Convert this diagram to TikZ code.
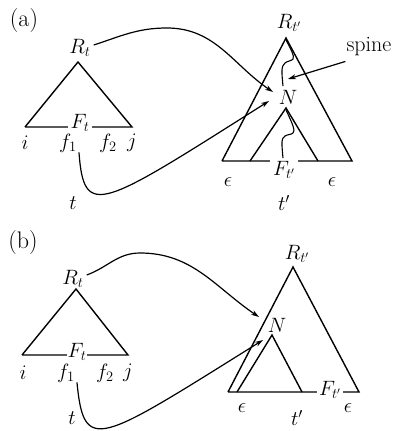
\documentclass[tikz,border=0pt]{standalone}
\usetikzlibrary{arrows.meta}
\begin{document}
\begin{tikzpicture}[x=1pt,y=-1pt,
  lbl/.style={font=\fontsize{20}{22}\selectfont,inner sep=0pt},
  big/.style={font=\fontsize{24}{27}\selectfont,inner sep=0pt},
  gap/.style={lbl,fill=white,inner xsep=3pt,inner ysep=1pt},
  edge/.style={line width=1.4pt},
  conn/.style={line width=1.2pt,-{Stealth[length=8pt,width=5pt]}},
  wig/.style={line width=1.1pt}]
\useasboundingbox (0,0) rectangle (397,431);
% ---------- (a) ----------
\node[big] (la) at (24,21) {(a)};
% left tree
\coordinate (aA) at (78,62);
\coordinate (aL) at (25,127);
\coordinate (aR) at (132,127);
\draw[edge] (aL) -- (aA) -- (aR) -- (aL);
\node[gap,inner xsep=3pt] (aFt) at (80,123) {$F_t$};
\node[lbl] (aRt) at (80,48) {$R_t$};
\node[lbl] (ai) at (25,143) {$i$};
\node[lbl] (af1) at (68,143) {$f_1$};
\node[lbl] (af2) at (108,143) {$f_2$};
\node[lbl] (aj) at (132,143) {$j$};
\node[lbl] (at) at (73,203) {$t$};
% right tree
\coordinate (bA) at (286,38);
\coordinate (bL) at (222,161);
\coordinate (bR) at (352,161);
\coordinate (cA) at (286,108);
\coordinate (cL) at (250,161);
\coordinate (cR) at (318,161);
\draw[edge] (bL) -- (bA) -- (bR) -- (bL);
\draw[edge] (cL) -- (cA) -- (cR);
\node[gap,inner xsep=3pt] (aFtp) at (284,170) {$F_{t'}$};
\node[lbl] (aRtp) at (289,23) {$R_{t'}$};
\node[lbl] (aN) at (288,97) {$N$};
\node[lbl] (ae1) at (228,182) {$\epsilon$};
\node[lbl] (ae2) at (332,182) {$\epsilon$};
\node[lbl] (atp) at (284,203) {$t'$};
\node[font=\fontsize{22}{24}\selectfont,inner sep=0pt] (spine) at (369,47) {spine};
% spine squiggles
\draw[wig] plot[smooth,tension=0.6] coordinates {(286,40) (292,52) (293,59) (285,63) (282,70) (283,86)};
\draw[wig] plot[smooth,tension=0.6] coordinates {(286,110) (293,126) (293,133) (285,136) (282,142) (283,158)};
\coordinate (spT) at (288,79);
\draw[conn] (spine.south west) ++(-1,5) -- (spT);
% connectors
\coordinate (aT1) at (273,92);
\coordinate (aT2) at (269,101);
\coordinate (aPk) at (167,28);
\draw[conn] (aRt.east) ++(3,-3) to[out=18,in=180] (aPk) to[out=0,in=146] (aT1);
\draw[conn] (af1.south east) ++(2,0) .. controls (84,220) and (100,208) .. (aT2);
% ---------- (b) ----------
\node[big] (lb) at (23,243) {(b)};
\coordinate (dA) at (76,289);
\coordinate (dL) at (22,355);
\coordinate (dR) at (128,355);
\draw[edge] (dL) -- (dA) -- (dR) -- (dL);
\node[gap,inner xsep=1pt] (bFt) at (77,352) {$F_t$};
\node[lbl] (bRt) at (73,279) {$R_t$};
\node[lbl] (bi) at (23,373) {$i$};
\node[lbl] (bf1) at (66,373) {$f_1$};
\node[lbl] (bf2) at (105,373) {$f_2$};
\node[lbl] (bj) at (128,373) {$j$};
\node[lbl] (bt) at (72,418) {$t$};
% right tree
\coordinate (eA) at (293,267);
\coordinate (eL) at (228,392);
\coordinate (eR) at (359,392);
\coordinate (fA) at (272,335);
\coordinate (fL) at (237,392);
\coordinate (fR) at (302,392);
\draw[edge] (eL) -- (eA) -- (eR) -- (eL);
\draw[edge] (fL) -- (fA) -- (fR);
\node[gap,inner xsep=2pt] (bFtp) at (330,390) {$F_{t'}$};
\node[lbl] (bRtp) at (297,254) {$R_{t'}$};
\node[lbl] (bN) at (277,325) {$N$};
\node[lbl] (be1) at (242,408) {$\epsilon$};
\node[lbl] (be2) at (348,408) {$\epsilon$};
\node[lbl] (btp) at (297,418) {$t'$};
% connectors
\coordinate (bT1) at (259,317);
\coordinate (bT2) at (263,340);
\coordinate (bPk) at (140,253);
\draw[conn] (bRt.east) ++(3,-4) to[out=20,in=180] (bPk) to[out=0,in=146] (bT1);
\draw[conn] (bf1.south east) ++(2,0) .. controls (84,455) and (98,443) .. (bT2);
\end{tikzpicture}
\end{document}
